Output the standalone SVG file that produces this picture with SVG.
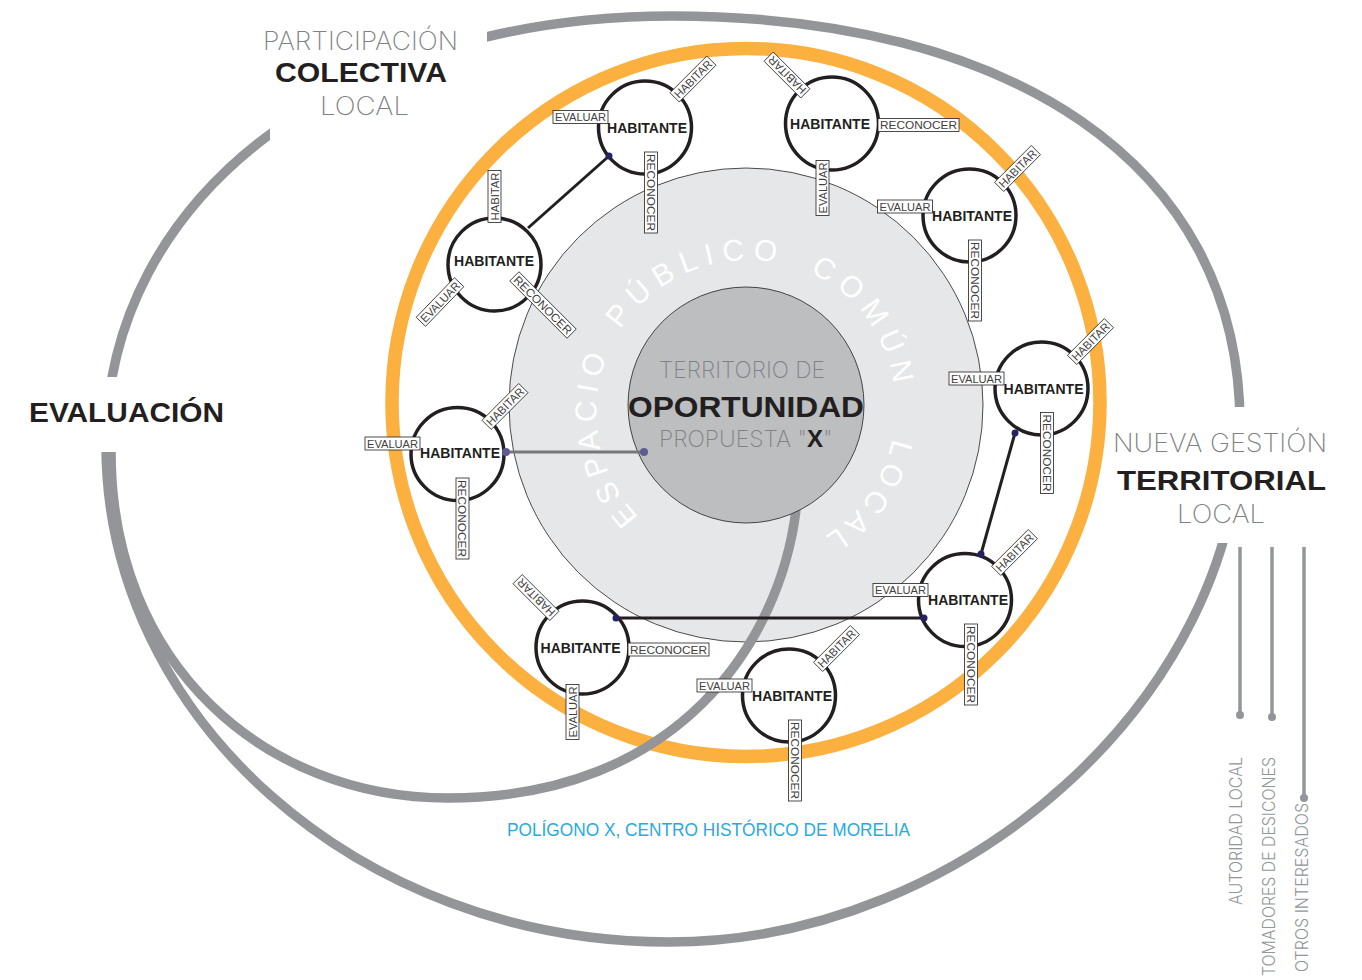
<svg xmlns="http://www.w3.org/2000/svg" width="1362" height="980" viewBox="0 0 1362 980">
<style>
.gr{fill:none;stroke:#939598;stroke-width:9.5}
.nc{fill:#fff;stroke:#231F20;stroke-width:3.5}
.lb{fill:#fff;stroke:#231F20;stroke-width:0.8}
.lt{font-family:"Liberation Sans",Arial,sans-serif;font-size:11.5px;fill:#414042;text-anchor:middle}
.hb{font-family:"Liberation Sans",Arial,sans-serif;font-weight:bold;font-size:14px;fill:#231F20;text-anchor:middle}
.cn{stroke:#231F20;stroke-width:3;fill:none}
.dt{fill:#262262}
.thin{font-family:Inter,"Liberation Sans",sans-serif;font-weight:200;fill:#808285}
.bold{font-family:"Liberation Sans",Arial,sans-serif;font-weight:bold;fill:#231F20}
.leg{font-family:Inter,"Liberation Sans",sans-serif;font-weight:300;font-size:17px;fill:#939598;text-anchor:end}
.arc{font-family:"Liberation Sans",Arial,sans-serif;font-size:30px;fill:#fff;letter-spacing:8px}
</style>
<defs>
<clipPath id="gaps">
<path clip-rule="evenodd" d="M0 0H1362V980H0Z M270 0H487V175H270Z M0 377H200V452H0Z M1150 407H1362V543H1150Z"/>
</clipPath>
<path id="ringPath" d="M648.3 526.4 A152 152 0 0 1 843.7 293.6 A152 152 0 0 1 648.3 526.4"/>
</defs>
<rect width="1362" height="980" fill="#fff"/>

<g id="rings">
<circle cx="746" cy="402.5" r="354" fill="none" stroke="#FBB040" stroke-width="13.5"/>
<circle id="espacio" cx="746" cy="405" r="237" fill="#E6E7E8" stroke="#231F20" stroke-width="0.8"/>
</g>

<g id="cycle">
<path class="gr" clip-path="url(#gaps)" d="M672 16 C1006 16 1240 160 1240 425 C1240 693.8 966 942 669 942 C359.4 942 106 718.4 106 445 C106 196.2 343.7 16 672 16 Z"/>
<path class="gr" d="M111 452 C111 665 265 798 448 798 C680 798 780 640 796 510"/>
</g>

<g id="territorio">
<circle cx="746" cy="405" r="118" fill="#BCBEC0" stroke="#231F20" stroke-width="0.8"/>
<text class="thin" x="742" y="378" font-size="23" fill="#6D6E71" text-anchor="middle" textLength="166" lengthAdjust="spacingAndGlyphs">TERRITORIO DE</text>
<text class="bold" x="746" y="417" font-size="29.5" text-anchor="middle" textLength="236" lengthAdjust="spacingAndGlyphs">OPORTUNIDAD</text>
<text class="thin" y="447" font-size="23" fill="#6D6E71"><tspan x="659" textLength="148" lengthAdjust="spacingAndGlyphs">PROPUESTA "</tspan><tspan font-family="Liberation Sans, Arial, sans-serif" font-weight="bold" font-size="24" fill="#231F20">X</tspan><tspan>"</tspan></text>
</g>

<g id="espacio-texto">
<text class="arc" style="letter-spacing:7px"><textPath href="#ringPath" startOffset="13">ESPACIO</textPath></text>
<text class="arc"><textPath href="#ringPath" startOffset="216">PÚBLICO</textPath></text>
<text class="arc"><textPath href="#ringPath" startOffset="431">COMÚN</textPath></text>
<text class="arc" style="letter-spacing:6px"><textPath href="#ringPath" startOffset="631">LOCAL</textPath></text>
</g>

<g id="connectors">
<line class="cn" x1="609" y1="156" x2="528" y2="228"/>
<line class="cn" x1="1015" y1="433" x2="981" y2="554"/>
<line class="cn" x1="616" y1="618" x2="924" y2="618"/>
<line x1="506" y1="452" x2="644" y2="452" stroke="#77787B" stroke-width="3"/>
</g>

<g id="n1">
<circle class="nc" cx="645" cy="127.5" r="46.5"/>
<text class="hb" x="647" y="133" textLength="80" lengthAdjust="spacingAndGlyphs">HABITANTE</text>
<g transform="translate(580.5,117)"><rect class="lb" x="-27.5" y="-6.5" width="55" height="13"/><text class="lt" y="4.2" textLength="51" lengthAdjust="spacingAndGlyphs">EVALUAR</text></g>
<g transform="translate(693,79) rotate(-45)"><rect class="lb" x="-26" y="-6.5" width="52" height="13"/><text class="lt" y="4.2" textLength="48" lengthAdjust="spacingAndGlyphs">HABITAR</text></g>
<g transform="translate(651,192.5) rotate(90)"><rect class="lb" x="-40.5" y="-6.5" width="81" height="13"/><text class="lt" y="4.2" textLength="77" lengthAdjust="spacingAndGlyphs">RECONOCER</text></g>
</g>

<g id="n2">
<circle class="nc" cx="494.5" cy="264.5" r="46.5"/>
<text class="hb" x="494" y="266" textLength="80" lengthAdjust="spacingAndGlyphs">HABITANTE</text>
<g transform="translate(494.5,196.5) rotate(-90)"><rect class="lb" x="-26" y="-6.5" width="52" height="13"/><text class="lt" y="4.2" textLength="48" lengthAdjust="spacingAndGlyphs">HABITAR</text></g>
<g transform="translate(440,302) rotate(-46)"><rect class="lb" x="-27.5" y="-6.5" width="55" height="13"/><text class="lt" y="4.2" textLength="51" lengthAdjust="spacingAndGlyphs">EVALUAR</text></g>
<g transform="translate(543,305) rotate(45)"><rect class="lb" x="-40.5" y="-6.5" width="81" height="13"/><text class="lt" y="4.2" textLength="77" lengthAdjust="spacingAndGlyphs">RECONOCER</text></g>
</g>

<g id="n3">
<circle class="nc" cx="832" cy="123.5" r="46.5"/>
<text class="hb" x="830" y="129" textLength="80" lengthAdjust="spacingAndGlyphs">HABITANTE</text>
<g transform="translate(787,75) rotate(225)"><rect class="lb" x="-26" y="-6.5" width="52" height="13"/><text class="lt" y="4.2" textLength="48" lengthAdjust="spacingAndGlyphs">HABITAR</text></g>
<g transform="translate(918.5,125)"><rect class="lb" x="-40.5" y="-6.5" width="81" height="13"/><text class="lt" y="4.2" textLength="77" lengthAdjust="spacingAndGlyphs">RECONOCER</text></g>
<g transform="translate(822.5,188) rotate(-90)"><rect class="lb" x="-27.5" y="-6.5" width="55" height="13"/><text class="lt" y="4.2" textLength="51" lengthAdjust="spacingAndGlyphs">EVALUAR</text></g>
</g>

<g id="n4">
<circle class="nc" cx="969.5" cy="215.5" r="46.5"/>
<text class="hb" x="972" y="221" textLength="80" lengthAdjust="spacingAndGlyphs">HABITANTE</text>
<g transform="translate(905,206.5)"><rect class="lb" x="-27.5" y="-6.5" width="55" height="13"/><text class="lt" y="4.2" textLength="51" lengthAdjust="spacingAndGlyphs">EVALUAR</text></g>
<g transform="translate(1017.5,168.5) rotate(-45)"><rect class="lb" x="-26" y="-6.5" width="52" height="13"/><text class="lt" y="4.2" textLength="48" lengthAdjust="spacingAndGlyphs">HABITAR</text></g>
<g transform="translate(975,280.5) rotate(90)"><rect class="lb" x="-40.5" y="-6.5" width="81" height="13"/><text class="lt" y="4.2" textLength="77" lengthAdjust="spacingAndGlyphs">RECONOCER</text></g>
</g>

<g id="n5">
<circle class="nc" cx="1041.5" cy="388.5" r="46.5"/>
<text class="hb" x="1043.5" y="394" textLength="80" lengthAdjust="spacingAndGlyphs">HABITANTE</text>
<g transform="translate(976.5,378.5)"><rect class="lb" x="-27.5" y="-6.5" width="55" height="13"/><text class="lt" y="4.2" textLength="51" lengthAdjust="spacingAndGlyphs">EVALUAR</text></g>
<g transform="translate(1090.5,341.5) rotate(-45)"><rect class="lb" x="-26" y="-6.5" width="52" height="13"/><text class="lt" y="4.2" textLength="48" lengthAdjust="spacingAndGlyphs">HABITAR</text></g>
<g transform="translate(1047,453) rotate(90)"><rect class="lb" x="-40.5" y="-6.5" width="81" height="13"/><text class="lt" y="4.2" textLength="77" lengthAdjust="spacingAndGlyphs">RECONOCER</text></g>
</g>

<g id="n6">
<circle class="nc" cx="965" cy="600" r="46.5"/>
<text class="hb" x="968" y="605" textLength="80" lengthAdjust="spacingAndGlyphs">HABITANTE</text>
<g transform="translate(900.5,590)"><rect class="lb" x="-27.5" y="-6.5" width="55" height="13"/><text class="lt" y="4.2" textLength="51" lengthAdjust="spacingAndGlyphs">EVALUAR</text></g>
<g transform="translate(1014.5,552.5) rotate(-45)"><rect class="lb" x="-26" y="-6.5" width="52" height="13"/><text class="lt" y="4.2" textLength="48" lengthAdjust="spacingAndGlyphs">HABITAR</text></g>
<g transform="translate(971,664.5) rotate(90)"><rect class="lb" x="-40.5" y="-6.5" width="81" height="13"/><text class="lt" y="4.2" textLength="77" lengthAdjust="spacingAndGlyphs">RECONOCER</text></g>
</g>

<g id="n7">
<circle class="nc" cx="582.5" cy="647.5" r="46.5"/>
<text class="hb" x="580.5" y="653" textLength="80" lengthAdjust="spacingAndGlyphs">HABITANTE</text>
<g transform="translate(536,597.5) rotate(225)"><rect class="lb" x="-26" y="-6.5" width="52" height="13"/><text class="lt" y="4.2" textLength="48" lengthAdjust="spacingAndGlyphs">HABITAR</text></g>
<g transform="translate(668.5,649.5)"><rect class="lb" x="-40.5" y="-6.5" width="81" height="13"/><text class="lt" y="4.2" textLength="77" lengthAdjust="spacingAndGlyphs">RECONOCER</text></g>
<g transform="translate(572.5,712) rotate(-90)"><rect class="lb" x="-27.5" y="-6.5" width="55" height="13"/><text class="lt" y="4.2" textLength="51" lengthAdjust="spacingAndGlyphs">EVALUAR</text></g>
</g>

<g id="n8">
<circle class="nc" cx="789" cy="695.5" r="46.5"/>
<text class="hb" x="792" y="701" textLength="80" lengthAdjust="spacingAndGlyphs">HABITANTE</text>
<g transform="translate(724.5,685.5)"><rect class="lb" x="-27.5" y="-6.5" width="55" height="13"/><text class="lt" y="4.2" textLength="51" lengthAdjust="spacingAndGlyphs">EVALUAR</text></g>
<g transform="translate(836.5,648.5) rotate(-45)"><rect class="lb" x="-26" y="-6.5" width="52" height="13"/><text class="lt" y="4.2" textLength="48" lengthAdjust="spacingAndGlyphs">HABITAR</text></g>
<g transform="translate(795,760.5) rotate(90)"><rect class="lb" x="-40.5" y="-6.5" width="81" height="13"/><text class="lt" y="4.2" textLength="77" lengthAdjust="spacingAndGlyphs">RECONOCER</text></g>
</g>

<g id="n9">
<circle class="nc" cx="457.5" cy="454" r="46.5"/>
<text class="hb" x="460" y="458" textLength="80" lengthAdjust="spacingAndGlyphs">HABITANTE</text>
<g transform="translate(392.5,443.5)"><rect class="lb" x="-27.5" y="-6.5" width="55" height="13"/><text class="lt" y="4.2" textLength="51" lengthAdjust="spacingAndGlyphs">EVALUAR</text></g>
<g transform="translate(505,406.5) rotate(-45)"><rect class="lb" x="-26" y="-6.5" width="52" height="13"/><text class="lt" y="4.2" textLength="48" lengthAdjust="spacingAndGlyphs">HABITAR</text></g>
<g transform="translate(462.5,518.5) rotate(90)"><rect class="lb" x="-40.5" y="-6.5" width="81" height="13"/><text class="lt" y="4.2" textLength="77" lengthAdjust="spacingAndGlyphs">RECONOCER</text></g>
</g>

<g id="dots">
<circle class="dt" cx="609" cy="156" r="3.5"/>
<circle class="dt" cx="1015" cy="433" r="3.5"/>
<circle class="dt" cx="981" cy="554" r="3.5"/>
<circle class="dt" cx="924" cy="618" r="3.5"/>
<circle class="dt" cx="616" cy="618" r="3.5"/>
<circle cx="506" cy="452" r="4" fill="#5E5C8F"/>
<circle cx="644" cy="452" r="4" fill="#5E5C8F"/>
</g>

<g id="participacion">
<text class="thin" x="360.5" y="50" font-size="26" text-anchor="middle" textLength="195" lengthAdjust="spacingAndGlyphs">PARTICIPACIÓN</text>
<text class="bold" x="361" y="82" font-size="27" text-anchor="middle" textLength="172" lengthAdjust="spacingAndGlyphs">COLECTIVA</text>
<text class="thin" x="364.5" y="115" font-size="26" text-anchor="middle" textLength="89" lengthAdjust="spacingAndGlyphs">LOCAL</text>
</g>

<g id="evaluacion">
<text class="bold" x="29" y="422" font-size="28.5" textLength="195" lengthAdjust="spacingAndGlyphs">EVALUACIÓN</text>
</g>

<g id="gestion">
<text class="thin" x="1220" y="452" font-size="26" text-anchor="middle" textLength="214" lengthAdjust="spacingAndGlyphs">NUEVA GESTIÓN</text>
<text class="bold" x="1221.5" y="490" font-size="28" text-anchor="middle" textLength="209" lengthAdjust="spacingAndGlyphs">TERRITORIAL</text>
<text class="thin" x="1221" y="523" font-size="26" text-anchor="middle" textLength="88" lengthAdjust="spacingAndGlyphs">LOCAL</text>
</g>

<g id="legend">
<g stroke="#939598" stroke-width="3.5">
<line x1="1240" y1="547" x2="1240" y2="715"/>
<line x1="1272" y1="547" x2="1272" y2="717"/>
<line x1="1304" y1="547" x2="1304" y2="798"/>
</g>
<g fill="#939598">
<circle cx="1240" cy="715" r="4"/>
<circle cx="1272" cy="717" r="4"/>
<circle cx="1304" cy="798" r="4"/>
</g>
<text class="leg" transform="translate(1242,757) rotate(-90)" textLength="148" lengthAdjust="spacingAndGlyphs">AUTORIDAD LOCAL</text>
<text class="leg" transform="translate(1275,757) rotate(-90)" textLength="219" lengthAdjust="spacingAndGlyphs">TOMADORES DE DESICONES</text>
<text class="leg" transform="translate(1308,803) rotate(-90)" textLength="169" lengthAdjust="spacingAndGlyphs">OTROS INTERESADOS</text>
</g>

<text x="507" y="836" font-family="Liberation Sans, Arial, sans-serif" font-size="17.5" fill="#27AAE1" textLength="403" lengthAdjust="spacingAndGlyphs">POLÍGONO X, CENTRO HISTÓRICO DE MORELIA</text>
</svg>
